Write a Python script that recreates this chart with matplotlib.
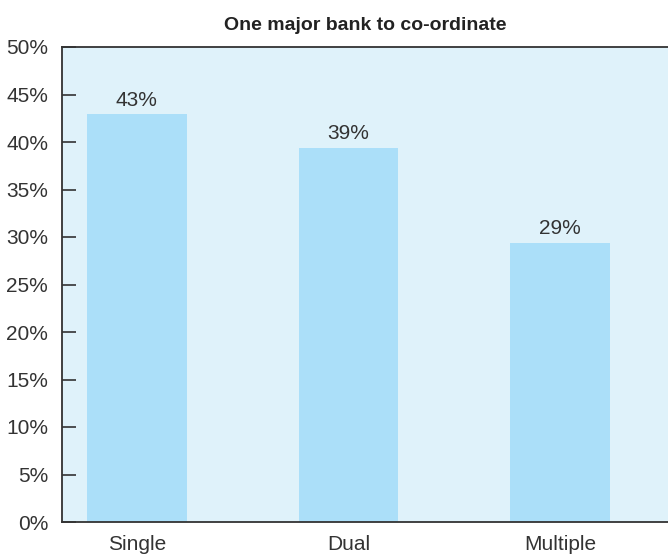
import matplotlib.pyplot as plt
from matplotlib.ticker import FuncFormatter

categories = ['Single', 'Dual', 'Multiple']
values = [42.9, 39.4, 29.4]
labels = ['43%', '39%', '29%']

plt.rcParams['font.family'] = ['Liberation Sans', 'DejaVu Sans']

fig = plt.figure(figsize=(6.68, 5.55), dpi=100)
ax = fig.add_axes([62 / 668, 33 / 555, 1 - 62 / 668, 475 / 555])
ax.set_facecolor('#dff2fa')

x = range(len(categories))
bars = ax.bar(x, values, width=0.47, color='#abdff9')
for b, lab in zip(bars, labels):
    ax.text(b.get_x() + b.get_width() / 2, b.get_height() + 0.5, lab,
            ha='center', va='bottom', fontsize=15, color='#333333')

ax.set_xlim(-0.354, 2.51)
ax.set_ylim(0, 50)
ax.set_yticks(range(0, 51, 5))
ax.yaxis.set_major_formatter(FuncFormatter(lambda v, p: '{:.0f}%'.format(v)))
ax.set_xticks(list(x))
ax.set_xticklabels(categories)
ax.tick_params(axis='y', direction='in', length=10, width=1.2, color='#333333',
               labelsize=15, labelcolor='#333333', pad=10)
ax.tick_params(axis='x', length=0, labelsize=15, labelcolor='#333333', pad=9)

for s in ['left', 'bottom', 'top']:
    ax.spines[s].set_color('#333333')
    ax.spines[s].set_linewidth(1.3)
ax.spines['right'].set_visible(False)

ax.set_title('One major bank to co-ordinate', fontsize=14, fontweight='bold',
             color='#222222', pad=12)

fig.savefig('out.png')
